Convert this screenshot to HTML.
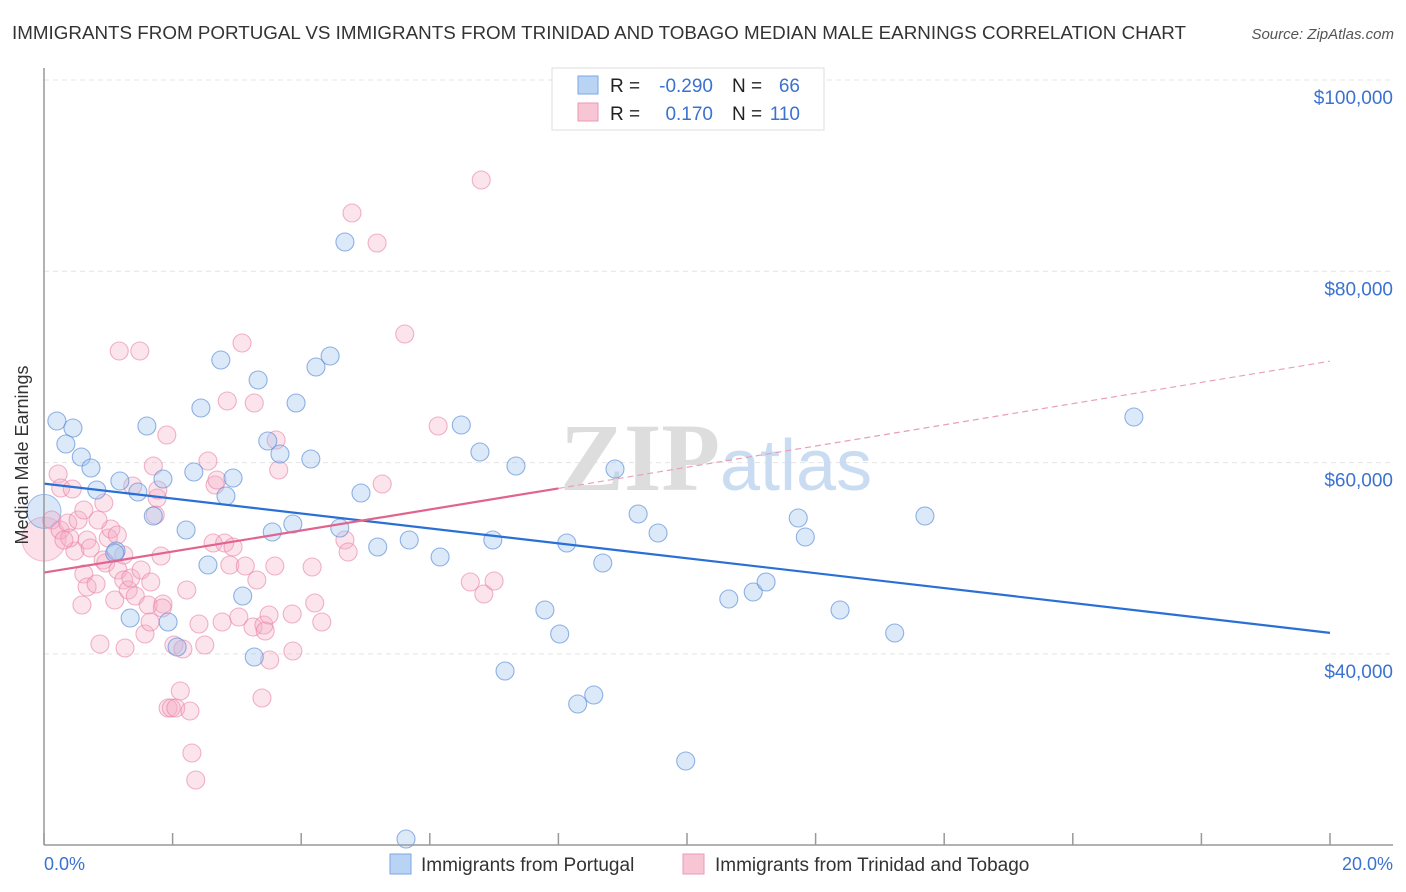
<!DOCTYPE html>
<html><head><meta charset="utf-8"><style>
body{margin:0;background:#fff;font-family:"Liberation Sans",sans-serif;}
svg{display:block}
</style></head><body>
<svg width="1406" height="892" xmlns="http://www.w3.org/2000/svg">
<text x="12" y="39" font-size="18" fill="#333" textLength="1174" lengthAdjust="spacingAndGlyphs">IMMIGRANTS FROM PORTUGAL VS IMMIGRANTS FROM TRINIDAD AND TOBAGO MEDIAN MALE EARNINGS CORRELATION CHART</text>
<text x="1394" y="39" font-size="15" fill="#555" text-anchor="end" font-style="italic">Source: ZipAtlas.com</text>
<g id="grid"></g>
<text x="720" y="490" font-size="96" fill="#ddd" text-anchor="end" font-family="Liberation Serif" font-weight="bold">ZIP</text>
<text x="720" y="490" font-size="72" fill="#c9dcf2">atlas</text>
<g id="pts"></g>
<g id="lines"></g>
<line x1="44" y1="68" x2="44" y2="845" stroke="#999" stroke-width="1.5"/>
<line x1="44" y1="845" x2="1393" y2="845" stroke="#999" stroke-width="1.5"/>
<text x="28" y="455" font-size="18" fill="#333" text-anchor="middle" transform="rotate(-90 28 455)">Median Male Earnings</text>
<text x="44" y="870" font-size="18" fill="#3b72d0">0.0%</text>
<text x="1393" y="870" font-size="18" fill="#3b72d0" text-anchor="end">20.0%</text>
<g>
<rect x="552" y="68" width="272" height="62" fill="#fff" stroke="#ddd"/>
<rect x="578" y="76" width="20" height="18" fill="#b9d3f5" stroke="#7aa7e3"/>
<rect x="578" y="103" width="20" height="18" fill="#f8c5d5" stroke="#eb9ab4"/>
<text x="610" y="92" font-size="19" fill="#222">R =</text><text x="713" y="92" font-size="19" fill="#3b72d0" text-anchor="end">-0.290</text>
<text x="732" y="92" font-size="19" fill="#222">N =</text><text x="800" y="92" font-size="19" fill="#3b72d0" text-anchor="end">66</text>
<text x="610" y="120" font-size="19" fill="#222">R =</text><text x="713" y="120" font-size="19" fill="#3b72d0" text-anchor="end">0.170</text>
<text x="732" y="120" font-size="19" fill="#222">N =</text><text x="800" y="120" font-size="19" fill="#3b72d0" text-anchor="end">110</text>
</g>
<g><rect x="390" y="854" width="21" height="20" fill="#b9d3f5" stroke="#7aa7e3"/><text x="421" y="871" font-size="19" fill="#333">Immigrants from Portugal</text></g>
<g><rect x="683" y="854" width="21" height="20" fill="#f8c5d5" stroke="#eb9ab4"/><text x="715" y="871" font-size="19" fill="#333">Immigrants from Trinidad and Tobago</text></g>
</svg>
<script>
const yTicks=[40000,60000,80000,100000];
const yTickLabels=["$40,000","$60,000","$80,000","$100,000"];
const xTicks=[0,2,4,6,8,10,12,14,16,18,20];
const bluePx=[[57,421],[73,428],[66,444],[81,457],[91,468],[97,490],[120,481],[138,492],[153,516],[147,426],[163,479],[186,530],[194,472],[201,408],[208,565],[221,360],[226,496],[233,478],[243,596],[254,657],[258,380],[268,441],[272,532],[280,454],[293,524],[296,403],[311,459],[316,367],[330,356],[340,528],[345,242],[361,493],[378,547],[409,540],[406,839],[440,557],[461,425],[480,452],[493,540],[505,671],[516,466],[545,610],[560,634],[567,543],[578,704],[594,695],[603,563],[615,469],[638,514],[658,533],[686,761],[729,599],[753,592],[766,582],[798,518],[805,537],[840,610],[895,633],[925,516],[1134,417],[130,618],[116,551],[177,647],[168,622],[115,553]];
const pinkPx=[[52,520],[60,530],[68,523],[58,474],[61,488],[72,489],[75,551],[70,538],[78,520],[84,510],[84,574],[87,587],[87,540],[90,548],[82,605],[96,584],[100,644],[103,560],[106,563],[108,538],[111,529],[115,600],[117,535],[118,570],[119,351],[124,580],[125,648],[124,555],[128,590],[131,578],[133,486],[135,596],[140,351],[141,570],[145,634],[148,605],[151,582],[153,466],[155,515],[157,498],[158,490],[161,556],[163,604],[162,608],[167,435],[168,708],[171,708],[174,645],[176,708],[180,691],[187,590],[190,711],[192,753],[196,780],[199,624],[205,645],[208,461],[213,543],[215,485],[217,480],[222,622],[225,543],[227,401],[230,565],[233,547],[239,617],[242,343],[245,566],[253,627],[254,403],[257,580],[262,698],[264,625],[265,631],[269,615],[270,660],[275,566],[276,440],[279,470],[292,614],[293,651],[312,567],[315,603],[322,622],[345,540],[348,552],[352,213],[377,243],[382,484],[405,334],[438,426],[470,582],[481,180],[484,594],[494,581],[104,503],[64,540],[98,520],[150,622],[183,649]];
const portugalX=bluePx.map(p=>+((p[0]-44)/64.3).toFixed(2));
const portugalY=bluePx.map(p=>Math.round(100000-(p[1]-80)/191.3*20000));
const trinidadX=pinkPx.map(p=>+((p[0]-44)/64.3).toFixed(2));
const trinidadY=pinkPx.map(p=>Math.round(100000-(p[1]-80)/191.3*20000));
const blueTrend=[[0,57800],[20,42200]];
const pinkTrend=[[0,48500],[8,57300],[20,70600]];
const X=v=>44+v*64.3, Y=v=>80+(100000-v)/20000*191.3;
const NS="http://www.w3.org/2000/svg";
function mk(t,a,p){const e=document.createElementNS(NS,t);for(const k in a)e.setAttribute(k,a[k]);p.appendChild(e);return e;}
const grid=document.getElementById('grid');
yTicks.forEach((t,i)=>{
 const l=mk('line',{x1:44,x2:1393,y1:Y(t),y2:Y(t),stroke:'#e4e4e4','stroke-dasharray':'5,4'},grid);
 
 
 const tx=mk('text',{x:1393,y:Y(t)+24,'font-size':19,fill:'#3b72d0','text-anchor':'end'},grid);
 tx.textContent=yTickLabels[i];
 
 
});
xTicks.forEach(t=>{
 const l=mk('line',{x1:X(t),x2:X(t),y1:833,y2:845,stroke:'#999','stroke-width':1.5},grid);
 
 
});
const pts=document.getElementById('pts');
const big1=mk('circle',{cx:X(0),cy:Y(52000),r:22,fill:'rgba(245,170,195,0.35)',stroke:'rgba(232,130,165,0.5)'},pts);


const big2=mk('circle',{cx:X(0),cy:Y(54900),r:17,fill:'rgba(160,196,240,0.4)',stroke:'rgba(100,150,220,0.6)'},pts);


trinidadX.forEach((x,i)=>{
 const c=mk('circle',{cx:X(x),cy:Y(trinidadY[i]),r:9,fill:'rgba(245,170,195,0.32)',stroke:'rgba(232,130,165,0.6)','stroke-width':1.1},pts);
 
 
});
portugalX.forEach((x,i)=>{
 const c=mk('circle',{cx:X(x),cy:Y(portugalY[i]),r:9,fill:'rgba(160,196,240,0.38)',stroke:'rgba(90,140,215,0.65)','stroke-width':1.1},pts);
 
 
});
const lines=document.getElementById('lines');
const b=mk('line',{x1:X(blueTrend[0][0]),y1:Y(blueTrend[0][1]),x2:X(blueTrend[1][0]),y2:Y(blueTrend[1][1]),stroke:'#2a6fd6','stroke-width':2.2},lines);


const p1=mk('line',{x1:X(pinkTrend[0][0]),y1:Y(pinkTrend[0][1]),x2:X(pinkTrend[1][0]),y2:Y(pinkTrend[1][1]),stroke:'#e0648e','stroke-width':2.2},lines);


const p2=mk('line',{x1:X(pinkTrend[1][0]),y1:Y(pinkTrend[1][1]),x2:X(pinkTrend[2][0]),y2:Y(pinkTrend[2][1]),stroke:'#e8a0b8','stroke-width':1.2,'stroke-dasharray':'6,4'},lines);


</script>
</body></html>
